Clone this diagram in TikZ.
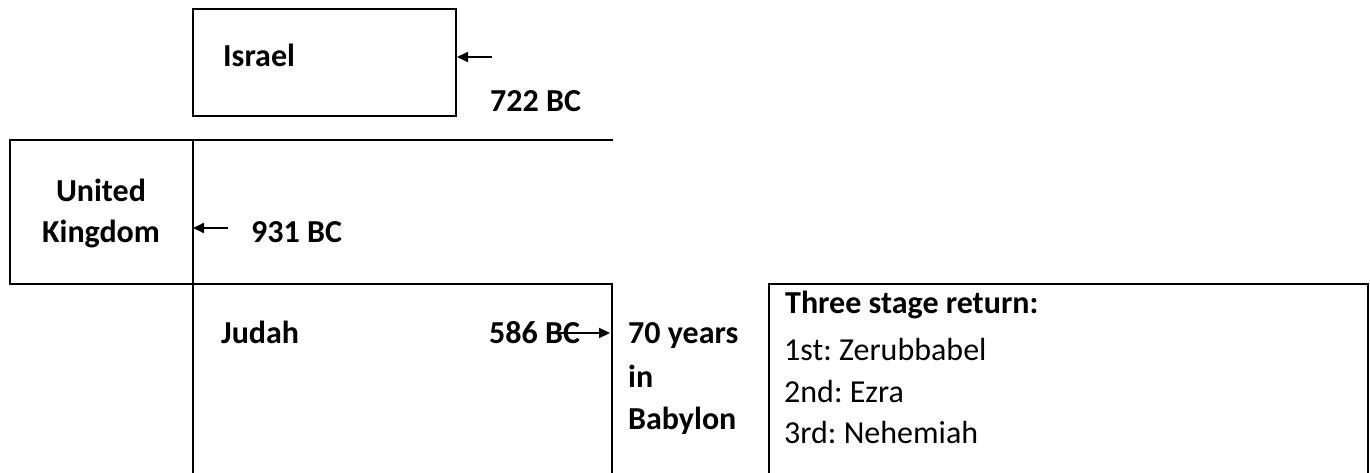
\documentclass[tikz,border=0pt]{standalone}
\usepackage{fontspec}
\setmainfont{Carlito}
\usetikzlibrary{arrows.meta}
\frenchspacing
\begin{document}
\begin{tikzpicture}[x=1pt,y=-1pt,
  frame/.style={draw=black,line width=2pt},
  lbl/.style={font=\fontsize{32}{38}\selectfont\bfseries,inner sep=0pt,anchor=base west},
  lblc/.style={font=\fontsize{32}{38}\selectfont\bfseries,inner sep=0pt,anchor=base},
  txt/.style={font=\fontsize{32}{38}\selectfont,inner sep=0pt,anchor=base west},
  boxnode/.style={draw=black,line width=2pt,inner sep=0pt,minimum width=263pt,minimum height=107pt},
  arr/.style={line width=2.2pt,-{Triangle[length=11pt,width=10pt]}}]
\useasboundingbox (0,0) rectangle (1370,473);
% Israel box
\node[boxnode] (israelbox) at (324.5,62.5) {};
\node[lbl] (israel) at (223,67) {Israel};
\coordinate (israeltail) at (492,57);
\draw[arr] (israeltail) -- (israelbox.east |- israeltail);
\node[lbl] (bc722) at (490,112) {722 BC};
% frame lines
\coordinate (tl) at (10,140);
\coordinate (tr) at (613,140);
\coordinate (vtop) at (193,140);
\coordinate (vbot) at (193,473);
\coordinate (ukbl) at (10,284);
\coordinate (judr) at (612,284);
\coordinate (judrb) at (612,473);
\draw[frame] (tr) -- (tl) -- (ukbl) -- (judr) -- (judrb);
\draw[frame] (vtop) -- (vbot);
% United Kingdom
\node[lblc] (united) at (101,202) {United};
\node[lblc] (kingdom) at (101,242) {Kingdom};
\coordinate (uktail) at (228,228);
\draw[arr] (uktail) -- (vtop |- uktail);
\node[lbl] (bc931) at (251,242) {931 BC};
% Judah
\node[lbl] (judah) at (221,343) {Judah};
\node[lbl] (bc586) at (489,343) {586 BC};
\coordinate (judtail) at (548,333);
\coordinate (judtip) at (610,333);
\draw[arr] (judtail) -- (judtip);
% Babylon
\node[lbl] (seventy) at (628,343) {70 years};
\node[lbl] (in) at (628,387) {in};
\node[lbl] (babylon) at (628,429) {Babylon};
% Three stage box
\coordinate (tsbl) at (769,473);
\coordinate (tstl) at (769,284);
\coordinate (tstr) at (1368,284);
\coordinate (tsbr) at (1368,473);
\draw[frame] (tsbl) -- (tstl) -- (tstr) -- (tsbr);
\node[lbl] (three) at (785,313) {Three stage return:};
\node[txt] (first) at (784,360) {1st: Zerubbabel};
\node[txt] (second) at (784,402) {2nd: Ezra};
\node[txt] (third) at (784,443) {3rd: Nehemiah};
\end{tikzpicture}
\end{document}
